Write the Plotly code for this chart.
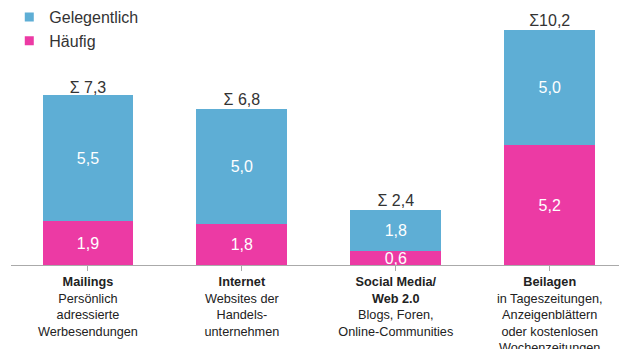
import plotly.graph_objects as go

categories = ["Mailings", "Internet", "Social Media/ Web 2.0", "Beilagen"]
tick_labels = [
    "<b>Mailings</b><br>Persönlich<br>adressierte<br>Werbesendungen",
    "<b>Internet</b><br>Websites der<br>Handels-<br>unternehmen",
    "<b>Social Media/</b><br><b>Web 2.0</b><br>Blogs, Foren,<br>Online-Communities",
    "<b>Beilagen</b><br>in Tageszeitungen,<br>Anzeigenblättern<br>oder kostenlosen<br>Wochenzeitungen",
]
haeufig = [1.9, 1.8, 0.6, 5.2]
gelegentlich = [5.5, 5.0, 1.8, 5.0]
totals = [7.3, 6.8, 2.4, 10.2]

FONT = "Liberation Sans, Arial, sans-serif"
BLUE = "#5eaed5"
PINK = "#ec3aa4"
x = list(range(len(categories)))

def fmt(v):
    return f"{v:.1f}".replace(".", ",")

fig = go.Figure()
fig.add_trace(go.Bar(
    x=x, y=haeufig, name="Häufig", width=0.59, showlegend=False,
    marker=dict(color=PINK, line=dict(width=0)),
    texttemplate="%{y:.1f}", textposition="inside", insidetextanchor="middle",
    textfont=dict(color="white", size=16, family=FONT),
))
fig.add_trace(go.Bar(
    x=x, y=gelegentlich, name="Gelegentlich", width=0.59, showlegend=False,
    marker=dict(color=BLUE, line=dict(width=0)),
    texttemplate="%{y:.1f}", textposition="inside", insidetextanchor="middle",
    textfont=dict(color="white", size=16, family=FONT),
))
# legend entries with small square symbols
fig.add_trace(go.Scatter(
    x=[None], y=[None], mode="markers", name="Häufig",
    marker=dict(symbol="square", size=9, color=PINK),
))
fig.add_trace(go.Scatter(
    x=[None], y=[None], mode="markers", name="Gelegentlich",
    marker=dict(symbol="square", size=9, color=BLUE),
))
fig.add_trace(go.Scatter(
    x=x, y=totals, mode="text", showlegend=False,
    text=[("Σ " if t < 10 else "Σ") + fmt(t) for t in totals],
    textposition="top center",
    textfont=dict(color="#333333", size=16, family=FONT),
    cliponaxis=False, hoverinfo="skip",
))

fig.update_layout(
    width=619, height=349,
    barmode="stack",
    separators=",.",
    plot_bgcolor="white", paper_bgcolor="white",
    font=dict(family=FONT, color="#333333"),
    margin=dict(l=11, r=0, t=20, b=84, autoexpand=False),
    uniformtext=dict(mode="show", minsize=10),
    legend=dict(
        xref="container", yref="container", x=0.015, y=1.0,
        xanchor="left", yanchor="top", traceorder="reversed",
        font=dict(size=16, color="#333333", family=FONT),
        itemwidth=30, bgcolor="rgba(0,0,0,0)",
    ),
    xaxis=dict(
        range=[-0.5, 3.45], tickmode="array", tickvals=x, ticktext=tick_labels,
        tickfont=dict(size=12.7, color="#222222", family=FONT),
        showline=True, linecolor="#aaaaaa", linewidth=1,
        ticks="outside", tickson="boundaries", ticklen=5, tickcolor="#aaaaaa",
        showgrid=False, zeroline=False,
    ),
    yaxis=dict(range=[0, 10.65], visible=False, showgrid=False, zeroline=False),
)

fig.write_html("out.html")
